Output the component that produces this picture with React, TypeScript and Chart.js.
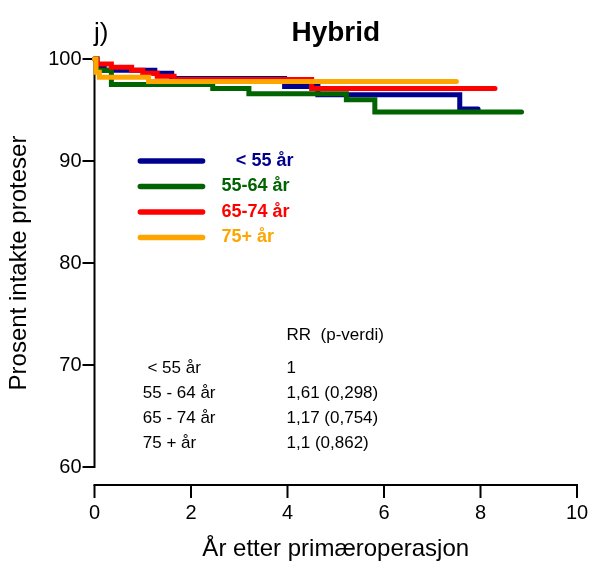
import React, { useEffect, useRef } from "react";
import { Chart, registerables } from "chart.js";

Chart.register(...registerables);

const FONT = '"Liberation Sans", Arial, Helvetica, sans-serif';

// Groups (legend order)
const groupLabels = ["< 55 år", "55-64 år", "65-74 år", "75+ år"];
const groupColors = ["#00008F", "#006400", "#FF0000", "#FFA500"];

// Kaplan-Meier step data: time (years) and percent intact prostheses
const timesU55 = [0, 0.05, 0.2, 1.25, 1.6, 3.94, 4.63, 7.57, 7.95];
const survU55 = [100, 99.3, 98.9, 98.6, 98.1, 97.3, 96.5, 95.1, 95.1];

const times5564 = [0, 0.05, 0.35, 2.45, 3.2, 5.22, 5.81, 8.85];
const surv5564 = [100, 98.9, 97.5, 97.1, 96.6, 96.0, 94.8, 94.8];

const times6574 = [0, 0.05, 0.35, 0.77, 1.0, 1.3, 1.65, 4.5, 8.3];
const surv6574 = [100, 99.5, 99.2, 98.9, 98.6, 98.3, 98.0, 97.1, 97.1];

const times75 = [0, 0.03, 0.1, 1.12, 7.5];
const surv75 = [100, 98.7, 98.2, 97.8, 97.8];

const seriesTimes = [timesU55, times5564, times6574, times75];
const seriesSurv = [survU55, surv5564, surv6574, surv75];
const drawOrder = [3, 2, 1, 0]; // orange on top, then red, green, blue

// Axes
const xTicks = [0, 2, 4, 6, 8, 10];
const yTicks = [60, 70, 80, 90, 100];
const xTitle = "År etter primæroperasjon";
const yTitle = "Prosent intakte proteser";
const chartTitle = "Hybrid";
const panelLabel = "j)";

// Legend placement in data units
const legendLineX = [0.95, 2.24];
const legendTextX = [2.93, 2.63, 2.63, 2.63];
const legendY = [90, 87.5, 85, 82.5];

// RR table
const tableHeader = "RR  (p-verdi)";
const tableRows = [" < 55 år", "55 - 64 år", "65 - 74 år", "75 + år"];
const tableValues = ["1", "1,61 (0,298)", "1,17 (0,754)", "1,1 (0,862)"];
const tableHeaderY = 72.9;
const tableRowY = [69.7, 67.25, 64.8, 62.35];
const tableLabelX = 1.0;
const tableValueX = 3.98;

const decorPlugin = {
  id: "decor",
  beforeDatasetsDraw(chart: any) {
    const { ctx, chartArea } = chart;
    const xs = chart.scales.x;
    const ys = chart.scales.y;
    ctx.save();
    ctx.strokeStyle = "#000";
    ctx.lineWidth = 2;
    ctx.lineCap = "butt";
    // y axis
    const ax = chartArea.left;
    ctx.beginPath();
    ctx.moveTo(ax, ys.getPixelForValue(yTicks[yTicks.length - 1]) - 1);
    ctx.lineTo(ax, ys.getPixelForValue(yTicks[0]) + 1);
    ctx.stroke();
    for (const t of yTicks) {
      const py = ys.getPixelForValue(t);
      ctx.beginPath();
      ctx.moveTo(ax - 12, py);
      ctx.lineTo(ax, py);
      ctx.stroke();
    }
    // x axis (offset below the plot)
    const ay = chartArea.bottom + 18;
    ctx.beginPath();
    ctx.moveTo(xs.getPixelForValue(xTicks[0]) - 1, ay);
    ctx.lineTo(xs.getPixelForValue(xTicks[xTicks.length - 1]) + 1, ay);
    ctx.stroke();
    ctx.fillStyle = "#000";
    ctx.font = `20px ${FONT}`;
    ctx.textAlign = "center";
    ctx.textBaseline = "middle";
    for (const t of xTicks) {
      const px = xs.getPixelForValue(t);
      ctx.beginPath();
      ctx.moveTo(px, ay);
      ctx.lineTo(px, ay + 13);
      ctx.stroke();
      ctx.fillText(String(t), px, ay + 28);
    }
    ctx.restore();
  },
  afterDraw(chart: any) {
    const { ctx, chartArea } = chart;
    const xs = chart.scales.x;
    const ys = chart.scales.y;
    ctx.save();
    // title
    ctx.fillStyle = "#000";
    ctx.textBaseline = "alphabetic";
    ctx.textAlign = "center";
    ctx.font = `bold 28px ${FONT}`;
    ctx.fillText(chartTitle, (chartArea.left + chartArea.right) / 2, 41);
    ctx.textAlign = "left";
    ctx.font = `26px ${FONT}`;
    ctx.fillText(panelLabel, 94, 41);
    // axis titles
    ctx.font = `24px ${FONT}`;
    ctx.textAlign = "center";
    ctx.textBaseline = "middle";
    ctx.fillText(xTitle, (chartArea.left + chartArea.right) / 2, 549);
    ctx.save();
    ctx.translate(19, (chartArea.top + chartArea.bottom) / 2);
    ctx.rotate(-Math.PI / 2);
    ctx.fillText(yTitle, 0, 0);
    ctx.restore();
    // legend
    ctx.lineWidth = 5.5;
    ctx.lineCap = "round";
    ctx.textAlign = "left";
    ctx.textBaseline = "middle";
    ctx.font = `bold 18px ${FONT}`;
    groupLabels.forEach((lab, i) => {
      const py = ys.getPixelForValue(legendY[i]);
      ctx.strokeStyle = groupColors[i];
      ctx.beginPath();
      ctx.moveTo(xs.getPixelForValue(legendLineX[0]), py);
      ctx.lineTo(xs.getPixelForValue(legendLineX[1]), py);
      ctx.stroke();
      ctx.fillStyle = groupColors[i];
      ctx.fillText(lab, xs.getPixelForValue(legendTextX[i]), py);
    });
    // RR table
    ctx.fillStyle = "#000";
    ctx.font = `17px ${FONT}`;
    ctx.fillText(tableHeader, xs.getPixelForValue(tableValueX), ys.getPixelForValue(tableHeaderY));
    tableRows.forEach((lab, i) => {
      const py = ys.getPixelForValue(tableRowY[i]);
      ctx.fillText(lab, xs.getPixelForValue(tableLabelX), py);
      ctx.fillText(tableValues[i], xs.getPixelForValue(tableValueX), py);
    });
    ctx.restore();
  },
};

export default function App() {
  const ref = useRef<HTMLCanvasElement | null>(null);
  useEffect(() => {
    if (!ref.current) return;
    const datasets = groupLabels.map((lab, i) => ({
      label: lab,
      data: seriesTimes[i].map((t, j) => ({ x: t, y: seriesSurv[i][j] })),
      borderColor: groupColors[i],
      backgroundColor: groupColors[i],
      borderWidth: 5,
      stepped: "before" as const,
      pointRadius: 0,
      fill: false,
      clip: false as any,
      borderCapStyle: "round" as const,
      borderJoinStyle: "miter" as const,
      order: drawOrder[i],
    }));
    const chart = new Chart(ref.current, {
      type: "line",
      data: { datasets },
      options: {
        animation: false,
        responsive: false,
        maintainAspectRatio: false,
        layout: { padding: { top: 59, right: 12, left: 0, bottom: 0 } },
        plugins: {
          legend: { display: false },
          tooltip: { enabled: false },
          title: { display: false },
        },
        scales: {
          x: {
            type: "linear",
            min: 0,
            max: 10,
            afterFit: (s: any) => {
              s.height = 94;
              s.paddingRight = 0;
              s.paddingLeft = 0;
            },
            afterBuildTicks: (s: any) => {
              s.ticks = xTicks.map((v) => ({ value: v }));
            },
            grid: { display: false, drawTicks: false },
            border: { display: false },
            ticks: { display: false, padding: 0 },
          },
          y: {
            type: "linear",
            min: 60,
            max: 100,
            afterFit: (s: any) => {
              s.width = 94.5;
            },
            afterBuildTicks: (s: any) => {
              s.ticks = yTicks.map((v) => ({ value: v }));
            },
            grid: { display: false, drawTicks: false },
            border: { display: false },
            ticks: {
              color: "#000",
              font: { family: FONT, size: 20 },
              padding: 13,
            },
          },
        },
      },
      plugins: [decorPlugin],
    });
    return () => chart.destroy();
  }, []);
  return (
    <div style={{ position: "absolute", left: 0, top: 0, width: 589, height: 561, background: "#fff" }}>
      <canvas ref={ref} width={589} height={561} style={{ display: "block" }} />
    </div>
  );
}
